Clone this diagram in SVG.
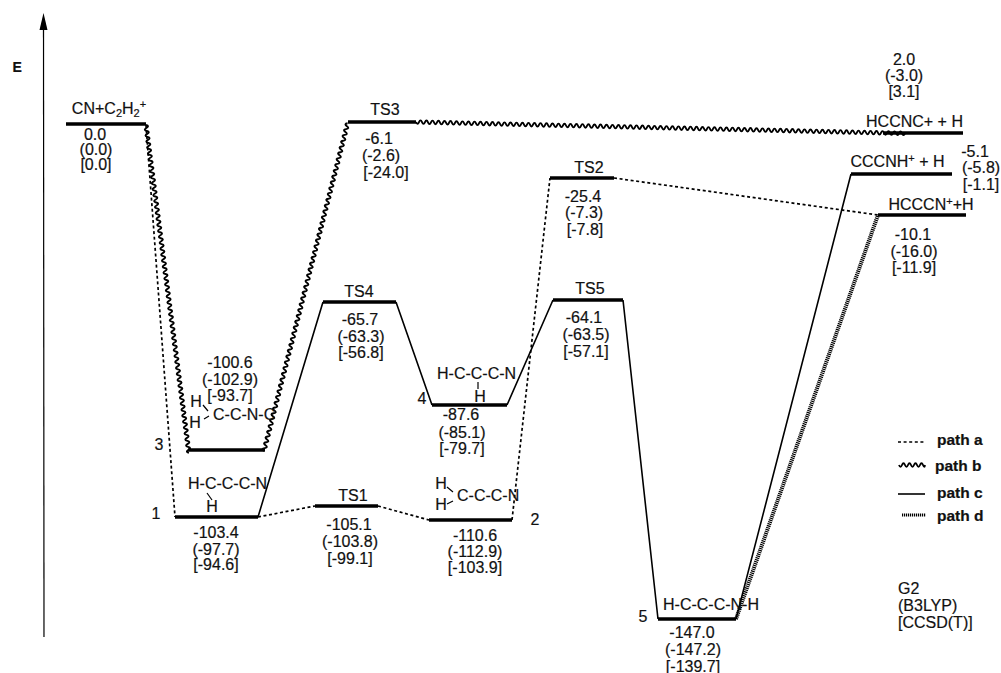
<svg xmlns="http://www.w3.org/2000/svg" width="1001" height="673" viewBox="0 0 1001 673">
<style>
text{font-family:"Liberation Sans",Arial,sans-serif;font-size:16px;fill:#111;text-anchor:middle;stroke:#111;stroke-width:.2}
.s{text-anchor:start}
.b{font-weight:bold;font-size:15.5px}
.sm{font-size:11px}
.lvl{stroke:#000;stroke-width:3.5;fill:none}
.a{stroke:#000;stroke-width:1.7;stroke-dasharray:3 2.6;fill:none}
.w{stroke:#000;stroke-width:1.9;fill:none}
.c{stroke:#000;stroke-width:1.6;fill:none}
.d{stroke:#000;stroke-width:4;stroke-dasharray:1.2 .8;fill:none}
.bond{stroke:#000;stroke-width:1.2;fill:none}
</style>
<rect width="1001" height="673" fill="#fff"/>
<g id="axis">
<line x1="43.5" y1="28" x2="44" y2="637" stroke="#000" stroke-width="1.2"/>
<polygon points="43.5,13 39.5,30 47.5,30" fill="#000"/>
<text class="s" x="12.5" y="72" style="font-weight:bold;font-size:14px">E</text>
</g>
<g id="connectors">
<path class="a" d="M146 125L175 517M258 517L315 506M378 506L429 520M512 520L550 178M614 178L878 215"/>
<path class="c" d="M258 517L323 302M396 302L432 405M507 405L553 300M623 300L658 619M736 619L851 174"/>
<path class="d" d="M736 619L878 215"/>
<path class="w" d="M146 125q3.8 1 .39 2.98t.39 2.98t.39 2.98t.39 2.98t.39 2.98t.39 2.98t.39 2.98t.39 2.98t.39 2.98t.39 2.98t.39 2.98t.39 2.98t.39 2.98t.39 2.98t.39 2.98t.39 2.98t.39 2.98t.39 2.98t.39 2.98t.39 2.98t.39 2.98t.39 2.98t.39 2.98t.39 2.98t.39 2.98t.39 2.98t.39 2.98t.39 2.98t.39 2.98t.39 2.98t.39 2.98t.39 2.98t.39 2.98t.39 2.98t.39 2.98t.39 2.98t.39 2.98t.39 2.98t.39 2.98t.39 2.98t.39 2.98t.39 2.98t.39 2.98t.39 2.98t.39 2.98t.39 2.98t.39 2.98t.39 2.98t.39 2.98t.39 2.98t.39 2.98t.39 2.98t.39 2.98t.39 2.98t.39 2.98t.39 2.98t.39 2.98t.39 2.98t.39 2.98t.39 2.98t.39 2.98t.39 2.98t.39 2.98t.39 2.98t.39 2.98t.39 2.98t.39 2.98t.39 2.98t.39 2.98t.39 2.98t.39 2.98t.39 2.98t.39 2.98t.39 2.98t.39 2.98t.39 2.98t.39 2.98t.39 2.98t.39 2.98t.39 2.98t.39 2.98t.39 2.98t.39 2.98t.39 2.98t.39 2.98t.39 2.98t.39 2.98t.39 2.98t.39 2.98t.39 2.98t.39 2.98t.39 2.98t.39 2.98t.39 2.98t.39 2.98t.39 2.98t.39 2.98t.39 2.98t.39 2.98t.39 2.98t.39 2.98t.39 2.98t.39 2.98t.39 2.98t.39 2.98t.39 2.98t.39 2.98t.39 2.98t.39 2.98t.39 2.98"/>
<path class="w" d="M264 451q-3.1-2.35.74-2.9t.74-2.9t.74-2.9t.74-2.9t.74-2.9t.74-2.9t.74-2.9t.74-2.9t.74-2.9t.74-2.9t.74-2.9t.74-2.9t.74-2.9t.74-2.9t.74-2.9t.74-2.9t.74-2.9t.74-2.9t.74-2.9t.74-2.9t.74-2.9t.74-2.9t.74-2.9t.74-2.9t.74-2.9t.74-2.9t.74-2.9t.74-2.9t.74-2.9t.74-2.9t.74-2.9t.74-2.9t.74-2.9t.74-2.9t.74-2.9t.74-2.9t.74-2.9t.74-2.9t.74-2.9t.74-2.9t.74-2.9t.74-2.9t.74-2.9t.74-2.9t.74-2.9t.74-2.9t.74-2.9t.74-2.9t.74-2.9t.74-2.9t.74-2.9t.74-2.9t.74-2.9t.74-2.9t.74-2.9t.74-2.9t.74-2.9t.74-2.9t.74-2.9t.74-2.9t.74-2.9t.74-2.9t.74-2.9t.74-2.9t.74-2.9t.74-2.9t.74-2.9t.74-2.9t.74-2.9t.74-2.9t.74-2.9t.74-2.9t.74-2.9t.74-2.9t.74-2.9t.74-2.9t.74-2.9t.74-2.9t.74-2.9t.74-2.9t.74-2.9t.74-2.9t.74-2.9t.74-2.9t.74-2.9t.74-2.9t.74-2.9t.74-2.9t.74-2.9t.74-2.9t.74-2.9t.74-2.9t.74-2.9t.74-2.9t.74-2.9t.74-2.9t.74-2.9t.74-2.9t.74-2.9t.74-2.9t.74-2.9t.74-2.9t.74-2.9t.74-2.9t.74-2.9t.74-2.9t.74-2.9t.74-2.9t.74-2.9t.74-2.9t.74-2.9t.74-2.9t.74-2.9"/>
<path class="w" d="M416 122q1.5 3.5 3 .07t3 .07t3 .07t3 .07t3 .07t3 .07t3 .07t3 .07t3 .07t3 .07t3 .07t3 .07t3 .07t3 .07t3 .07t3 .07t3 .07t3 .07t3 .07t3 .07t3 .07t3 .07t3 .07t3 .07t3 .07t3 .07t3 .07t3 .07t3 .07t3 .07t3 .07t3 .07t3 .07t3 .07t3 .07t3 .07t3 .07t3 .07t3 .07t3 .07t3 .07t3 .07t3 .07t3 .07t3 .07t3 .07t3 .07t3 .07t3 .07t3 .07t3 .07t3 .07t3 .07t3 .07t3 .07t3 .07t3 .07t3 .07t3 .07t3 .07t3 .07t3 .07t3 .07t3 .07t3 .07t3 .07t3 .07t3 .07t3 .07t3 .07t3 .07t3 .07t3 .07t3 .07t3 .07t3 .07t3 .07t3 .07t3 .07t3 .07t3 .07t3 .07t3 .07t3 .07t3 .07t3 .07t3 .07t3 .07t3 .07t3 .07t3 .07t3 .07t3 .07t3 .07t3 .07t3 .07t3 .07t3 .07t3 .07t3 .07t3 .07t3 .07t3 .07t3 .07t3 .07t3 .07t3 .07t3 .07t3 .07t3 .07t3 .07t3 .07t3 .07t3 .07t3 .07t3 .07t3 .07t3 .07t3 .07t3 .07t3 .07t3 .07t3 .07t3 .07t3 .07t3 .07t3 .07t3 .07t3 .07t3 .07t3 .07t3 .07t3 .07t3 .07t3 .07t3 .07t3 .07t3 .07t3 .07t3 .07t3 .07t3 .07t3 .07t3 .07t3 .07t3 .07t3 .07t3 .07t3 .07t3 .07t3 .07t3 .07t3 .07t3 .07t3 .07t3 .07t3 .07t3 .07t3 .07t3 .07t3 .07t3 .07t3 .07"/>
</g>
<g id="reactant">
<line class="lvl" x1="66" y1="124" x2="146" y2="124"/>
<text x="109" y="114">CN+C<tspan class="sm" dy="3">2</tspan><tspan dy="-3">H</tspan><tspan class="sm" dy="3">2</tspan><tspan class="sm" dy="-9">+</tspan></text>
<text x="95" y="140">0.0</text><text x="96" y="155">(0.0)</text><text x="96" y="170">[0.0]</text>
</g>
<g id="n3">
<line class="lvl" x1="188" y1="450" x2="265" y2="450"/>
<text x="159" y="450">3</text>
<text x="230" y="368">-100.6</text><text x="230" y="385">(-102.9)</text><text x="230" y="401">[-93.7]</text>
<text x="196" y="407">H</text><text x="195" y="428">H</text>
<text class="s" x="213" y="420">C-C-N-C</text>
<path class="bond" d="M203 405L208 411M204 419L209 416"/>
</g>
<g id="n1">
<line class="lvl" x1="175" y1="517" x2="258" y2="517"/>
<text x="156" y="519">1</text>
<text class="s" x="188" y="489">H-C-C-C-N</text>
<path class="bond" d="M207 493L212 500"/>
<text x="212" y="512">H</text>
<text x="216" y="538">-103.4</text><text x="216" y="555">(-97.7)</text><text x="216" y="570">[-94.6]</text>
</g>
<g id="ts1">
<line class="lvl" x1="315" y1="506" x2="378" y2="506"/>
<text x="353" y="501">TS1</text>
<text x="349" y="530">-105.1</text><text x="350" y="547">(-103.8)</text><text x="350" y="564">[-99.1]</text>
</g>
<g id="n2">
<line class="lvl" x1="429" y1="520" x2="512" y2="520"/>
<text x="535" y="525">2</text>
<text x="441" y="489">H</text><text x="441" y="510">H</text>
<text class="s" x="457" y="501">C-C-C-N</text>
<path class="bond" d="M447 487L453 492M447 504L453 501"/>
<text x="475" y="541">-110.6</text><text x="475" y="557">(-112.9)</text><text x="475" y="573">[-103.9]</text>
</g>
<g id="n4">
<line class="lvl" x1="432" y1="405" x2="507" y2="405"/>
<text x="422" y="404">4</text>
<text class="s" x="437" y="379">H-C-C-C-N</text>
<line class="bond" x1="478" y1="382" x2="478" y2="389"/>
<text x="480" y="402">H</text>
<text x="461" y="420">-87.6</text><text x="462" y="438">(-85.1)</text><text x="462" y="454">[-79.7]</text>
</g>
<g id="ts4">
<line class="lvl" x1="323" y1="302" x2="396" y2="302"/>
<text x="359" y="297">TS4</text>
<text x="360" y="325">-65.7</text><text x="361" y="342">(-63.3)</text><text x="361" y="358">[-56.8]</text>
</g>
<g id="ts3">
<line class="lvl" x1="348" y1="122" x2="416" y2="122"/>
<text x="385" y="115">TS3</text>
<text x="379" y="144">-6.1</text><text x="381" y="161">(-2.6)</text><text x="386" y="178">[-24.0]</text>
</g>
<g id="ts2">
<line class="lvl" x1="550" y1="178" x2="614" y2="178"/>
<text x="589" y="173">TS2</text>
<text x="583" y="202">-25.4</text><text x="584" y="218">(-7.3)</text><text x="585" y="235">[-7.8]</text>
</g>
<g id="ts5">
<line class="lvl" x1="553" y1="300" x2="623" y2="300"/>
<text x="590" y="294">TS5</text>
<text x="584" y="323">-64.1</text><text x="586" y="340">(-63.5)</text><text x="586" y="357">[-57.1]</text>
</g>
<g id="n5">
<line class="lvl" x1="658" y1="619" x2="736" y2="619"/>
<text x="643" y="622">5</text>
<text class="s" x="663" y="610">H-C-C-C-N-H</text>
<text x="692" y="638">-147.0</text><text x="693" y="655">(-147.2)</text><text x="693" y="672">[-139.7]</text>
</g>
<g id="hccnc">
<line class="lvl" x1="883" y1="133" x2="963" y2="133"/>
<text x="914.5" y="127">HCCNC+ + H</text>
<text x="904" y="65">2.0</text><text x="904" y="81">(-3.0)</text><text x="904" y="97">[3.1]</text>
</g>
<g id="cccnh">
<line class="lvl" x1="851" y1="174" x2="952" y2="174"/>
<text x="897.5" y="167">CCCNH<tspan class="sm" dy="-5">+</tspan><tspan dy="5"> + H</tspan></text>
<text x="975" y="157">-5.1</text><text x="981" y="173">(-5.8)</text><text x="981" y="190">[-1.1]</text>
</g>
<g id="hcccn">
<line class="lvl" x1="878" y1="215" x2="966" y2="215"/>
<text x="931" y="210">HCCCN<tspan class="sm" dy="-5">+</tspan><tspan dy="5">+H</tspan></text>
<text x="913" y="240">-10.1</text><text x="914" y="257">(-16.0)</text><text x="914" y="273">[-11.9]</text>
</g>
<g id="legend">
<line class="a" x1="898" y1="442" x2="925" y2="442"/>
<path class="w" d="M899 465q1.5 3.5 3 0t3 0t3 0t3 0t3 0t3 0t3 0t3 0t2 0"/>
<line class="c" x1="898" y1="494" x2="925" y2="494"/>
<line class="d" x1="902" y1="515" x2="926" y2="515" style="stroke-width:3"/>
<text class="s b" x="937" y="445">path a</text>
<text class="s b" x="935" y="471">path b</text>
<text class="s b" x="937" y="498">path c</text>
<text class="s b" x="937" y="521">path d</text>
</g>
<g id="methods">
<text class="s" x="898" y="594">G2</text>
<text class="s" x="898" y="611">(B3LYP)</text>
<text class="s" x="898" y="628">[CCSD(T)]</text>
</g>
</svg>
